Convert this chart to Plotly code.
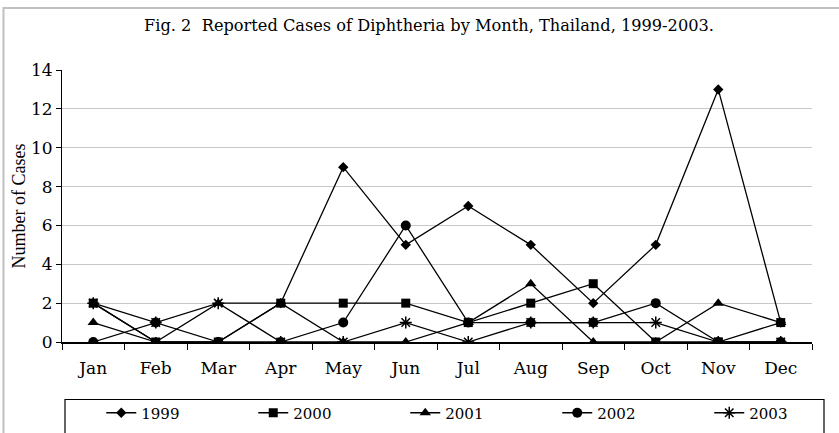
import plotly.graph_objects as go

months = ["Jan", "Feb", "Mar", "Apr", "May", "Jun", "Jul", "Aug", "Sep", "Oct", "Nov", "Dec"]
y1999 = [2, 0, 0, 2, 9, 5, 7, 5, 2, 5, 13, 1]
y2000 = [2, 0, 0, 2, 2, 2, 1, 2, 3, 0, 0, 1]
y2001 = [1, 0, 2, 2, 0, 0, 1, 3, 0, 0, 2, 1]
y2002 = [0, 1, 0, 0, 1, 6, 1, 1, 1, 2, 0, 0]
y2003 = [2, 1, 2, 0, 0, 1, 0, 1, 1, 1, 0, 0]
y_ticks = [0, 2, 4, 6, 8, 10, 12, 14]

series = [
    ("1999", y1999, "diamond", 8),
    ("2000", y2000, "square", 9),
    ("2001", y2001, "triangle-up", 10),
    ("2002", y2002, "circle", 10),
    ("2003", y2003, "asterisk-open", 10),
]

fig = go.Figure()
for name, vals, sym, sz in series:
    fig.add_trace(go.Scatter(
        x=months, y=vals, name=name, mode="lines+markers",
        line=dict(color="black", width=1.3),
        marker=dict(symbol=sym, size=sz, color="black",
                    line=dict(color="black", width=1.5 if "asterisk" in sym else 0)),
    ))

serif = "DejaVu Serif"
fig.update_layout(
    width=839, height=433,
    margin=dict(l=62, r=27, t=70, b=91, autoexpand=False),
    paper_bgcolor="white", plot_bgcolor="white",
    showlegend=True,
    title=dict(
        text="Fig. 2\u00a0\u00a0Reported Cases of Diphtheria by Month, Thailand, 1999-2003.",
        x=429 / 839, xanchor="center", y=1 - 25 / 433, yanchor="middle",
        font=dict(family=serif, size=16.2, color="black"),
    ),
    legend=dict(
        orientation="h", x=-0.001, xanchor="left",
        y=(341.6 - 396) / 271.6, yanchor="top",
        font=dict(family=serif, size=15, color="black"),
        indentation=40,
        entrywidth=67, entrywidthmode="pixels",
        bgcolor="rgba(0,0,0,0)", borderwidth=0,
    ),
    xaxis=dict(
        type="category", range=[-0.5, 11.5], tickson="boundaries",
        ticks="outside", ticklen=6, tickcolor="black",
        showline=True, linecolor="black", linewidth=1.5,
        showgrid=False, zeroline=False, ticklabelstandoff=10,
        tickfont=dict(family=serif, size=17, color="black"),
    ),
    yaxis=dict(
        range=[0, 14], tickvals=y_ticks,
        ticks="outside", ticklen=5, tickcolor="black",
        showline=True, linecolor="black", linewidth=1,
        showgrid=True, gridcolor="#c8c8c8", gridwidth=1,
        zeroline=False,
        tickfont=dict(family=serif, size=17, color="black"),
        title=dict(text="Number of Cases", standoff=0,
                   font=dict(family="Liberation Serif", size=18, color="black")),
    ),
    shapes=[
        dict(type="rect", xref="paper", yref="paper",
             x0=(3.5 - 62) / 750, x1=1.2, y0=-0.6, y1=(341.6 - 8) / 271.6,
             line=dict(color="#c0c0c0", width=2), layer="below"),
        dict(type="rect", xref="paper", yref="paper",
             x0=(65 - 62) / 750, x1=(824 - 62) / 750,
             y0=-0.6, y1=(341.6 - 399) / 271.6,
             line=dict(color="black", width=1.2), layer="above"),
    ],
)
fig.write_html("out.html", config={"displayModeBar": False},
               post_script="document.body.style.margin='0';")
